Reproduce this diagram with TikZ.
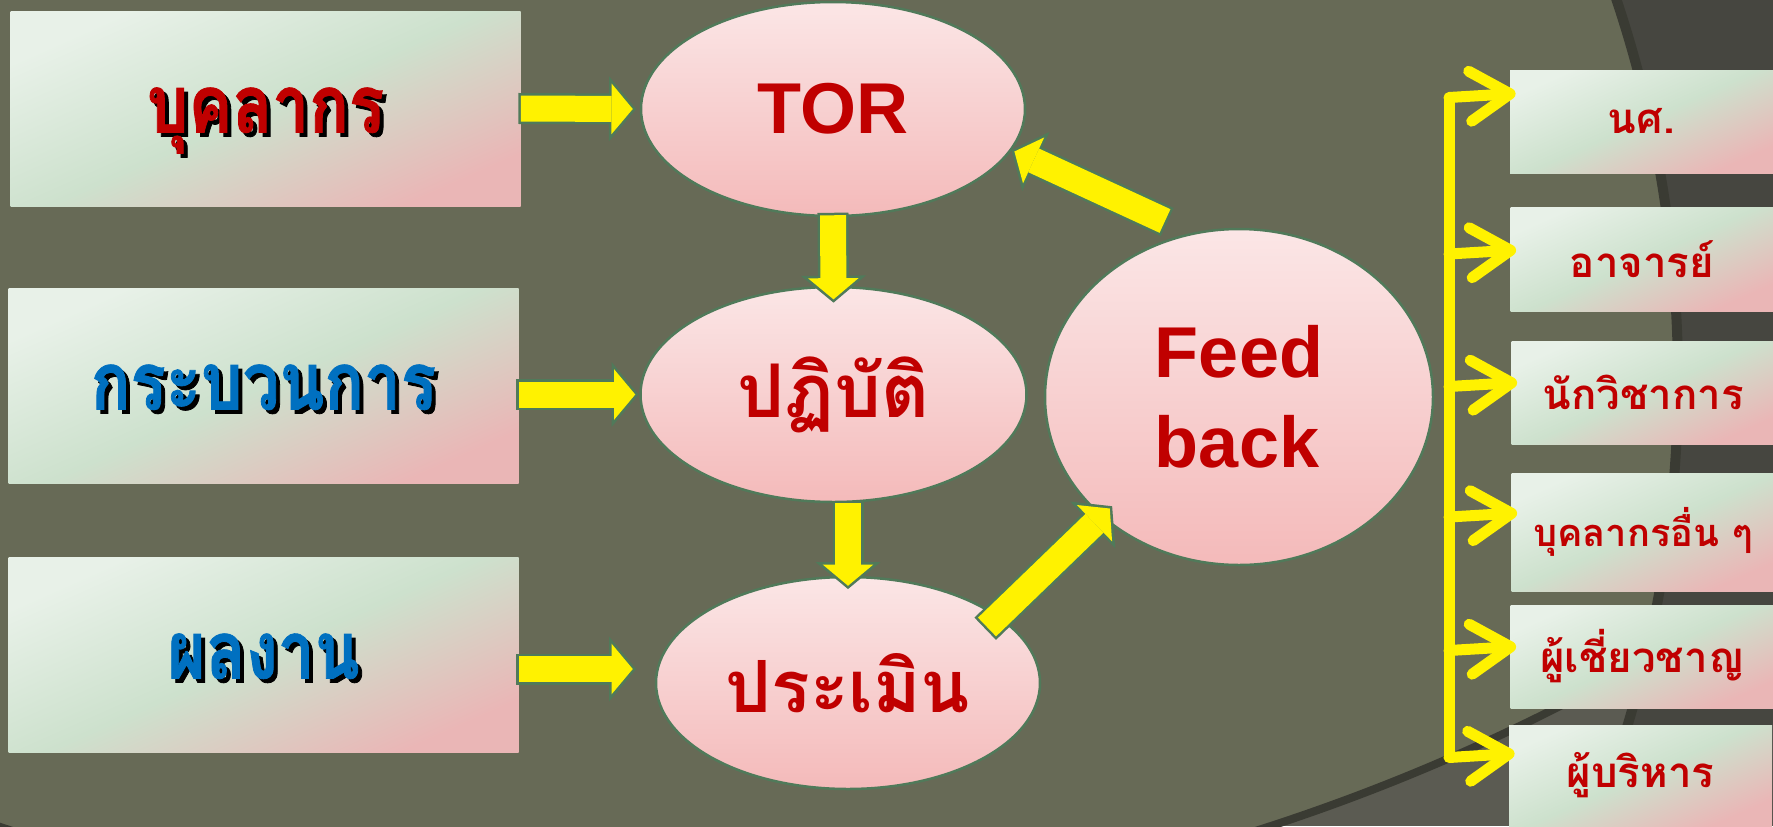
\documentclass[tikz,border=0pt]{standalone}
\usepackage{fontspec}
\setmainfont{Liberation Sans}
\newfontfamily\thaifont[Script=Thai]{Loma}
\newfontfamily\thaiheavy[Script=Thai,FakeStretch=0.82,FakeBold=1]{Loma}
\usetikzlibrary{arrows.meta,shapes.geometric,calc}

\definecolor{bgolive}{RGB}{103,106,86}
\definecolor{bggray}{RGB}{91,91,82}
\definecolor{bgdark}{RGB}{70,70,64}
\definecolor{bgband}{RGB}{58,59,51}
\definecolor{boxlight}{RGB}{232,241,232}
\definecolor{boxgreen}{RGB}{205,225,205}
\definecolor{boxpink}{RGB}{234,182,182}
\definecolor{ovaltop}{RGB}{251,230,230}
\definecolor{ovalbot}{RGB}{244,186,186}
\definecolor{edgegreen}{RGB}{80,122,90}
\definecolor{thaired}{RGB}{192,0,0}
\definecolor{thaiblue}{RGB}{0,112,192}

\newcommand{\shadowed}[2]{\rlap{\hspace{2pt}\raisebox{-2pt}{\color{black}#2}}{\color{#1}#2}}

\begin{document}
\begin{tikzpicture}[x=0.5pt, y=-0.5pt,
    leftbox/.style={rectangle, minimum width=255pt, minimum height=97.5pt,
        top color=boxlight, bottom color=boxpink, middle color=boxgreen, shading angle=24,
        text height=24pt, text depth=0pt,
        font=\thaiheavy\bfseries\fontsize{40}{44}\selectfont},
    oval/.style={ellipse, draw=edgegreen, line width=1.25pt,
        top color=ovaltop, bottom color=ovalbot, text=thaired, inner sep=0pt},
    rolebox/.style={rectangle, minimum width=131.5pt, minimum height=51.5pt,
        top color=boxlight, bottom color=boxpink, middle color=boxgreen, shading angle=24,
        text=thaired, font=\thaifont\bfseries\fontsize{21}{24}\selectfont},
    blockarrow/.style={draw=yellow, line width=13pt,
        -{Triangle[length=10.6pt, width=25.3pt, line width=0pt]},
        preaction={draw=edgegreen, line width=15.5pt, shorten >=-1.65pt, shorten <=-1.25pt,
            -{Triangle[length=13.5pt, width=32.5pt, line width=0pt]}}},
    fanarrow/.style={draw=yellow, line width=5.5pt, line cap=round,
        -{Straight Barb[length=20pt, width=25pt, round]}},
    trunk/.style={draw=yellow, line width=5.5pt}
]
\path[use as bounding box] (0,0) rectangle (1773,826);
\clip (0,0) rectangle (1773,826);

% background
\fill[bgdark] (0,0) rectangle (1773,826);
\begin{scope}
  \clip (478,380) circle[radius=600pt];
  \fill[bggray] (0,0) rectangle (1773,826);
  \fill[bgolive] (634,-1120) circle[radius=1023.5pt];
  \draw[bgband, line width=4pt] (634,-1120) circle[radius=1023.5pt];
\end{scope}
\draw[bgband, line width=5pt] (478,380) circle[radius=600pt];

% left column
\node[leftbox] (box1) at (265.5,108.5) {\shadowed{thaired}{บุคลากร}};
\node[leftbox] (box2) at (263.5,385.5) {\shadowed{thaiblue}{กระบวนการ}};
\node[leftbox] (box3) at (263.5,654.5) {\shadowed{thaiblue}{ผลงาน}};

% cycle
\node[oval, minimum width=192pt, minimum height=107pt,
      font=\bfseries\fontsize{36}{40}\selectfont] (tor) at (833,109) {TOR};
\node[oval, minimum width=193pt, minimum height=107.5pt,
      font=\thaifont\bfseries\fontsize{37}{40}\selectfont] (prac) at (833.5,394.5) {ปฏิบัติ};
\node[oval, minimum width=192pt, minimum height=106pt,
      font=\thaifont\bfseries\fontsize{36}{40}\selectfont] (eval) at (848,683) {ประเมิน};
\node[oval, minimum width=194pt, minimum height=168pt, align=left,
      font=\bfseries\fontsize{36}{45}\selectfont] (fb) at (1239,397) {Feed\\back};

% right column
\node[rolebox] (r1) at (1641.5,121.5) {นศ.};
\node[rolebox, minimum height=52pt] (r2) at (1642,259) {อาจารย์};
\node[rolebox] (r3) at (1643,392.5) {นักวิชาการ};
\node[rolebox, minimum height=59pt,
      font=\thaifont\bfseries\fontsize{19}{22}\selectfont] (r4) at (1643,532) {บุคลากรอื่น ๆ};
\node[rolebox] (r5) at (1642,656.5) {ผู้เชี่ยวชาญ};
\node[rolebox, minimum height=50.5pt] (r6) at (1640.5,775.5) {ผู้บริหาร};

% block arrows
\draw[blockarrow] (box1.east) -- ([xshift=-3.5pt]tor.west);
\draw[blockarrow] (box2.east |- prac.west) -- ([xshift=-2pt]prac.west);
\draw[blockarrow] ([yshift=-7.25pt]box3.east) -- ([xshift=-11pt,yshift=7pt]eval.west);
\draw[blockarrow] ([yshift=1pt]tor.south) -- ([yshift=-6.8pt]prac.north);
\draw[blockarrow] (eval.north |- prac.south) -- ([yshift=-5pt]eval.north);
\coordinate (fbtail) at (1165,221);
\draw[blockarrow] (fbtail) -- ($(tor.347.3)!1.5pt!(fbtail)$);
\coordinate (evaltail) at (987,627);
\draw[blockarrow] (evaltail) -- ($(fb.221.6)!-6pt!(evaltail)$);

% fan-out to the groups
\coordinate (trunktop) at (1449,97);
\coordinate (trunkbot) at (1449,756);
\draw[trunk] (trunktop) -- (trunkbot);
\foreach \r/\dy in {r1/14, r2/4.5, r3/5, r4/9.5, r5/5, r6/11}
  \draw[fanarrow] ([yshift=\dy pt-2pt]\r.west -| trunktop) -- ([xshift=3pt,yshift=\dy pt]\r.west);

\end{tikzpicture}
\end{document}
